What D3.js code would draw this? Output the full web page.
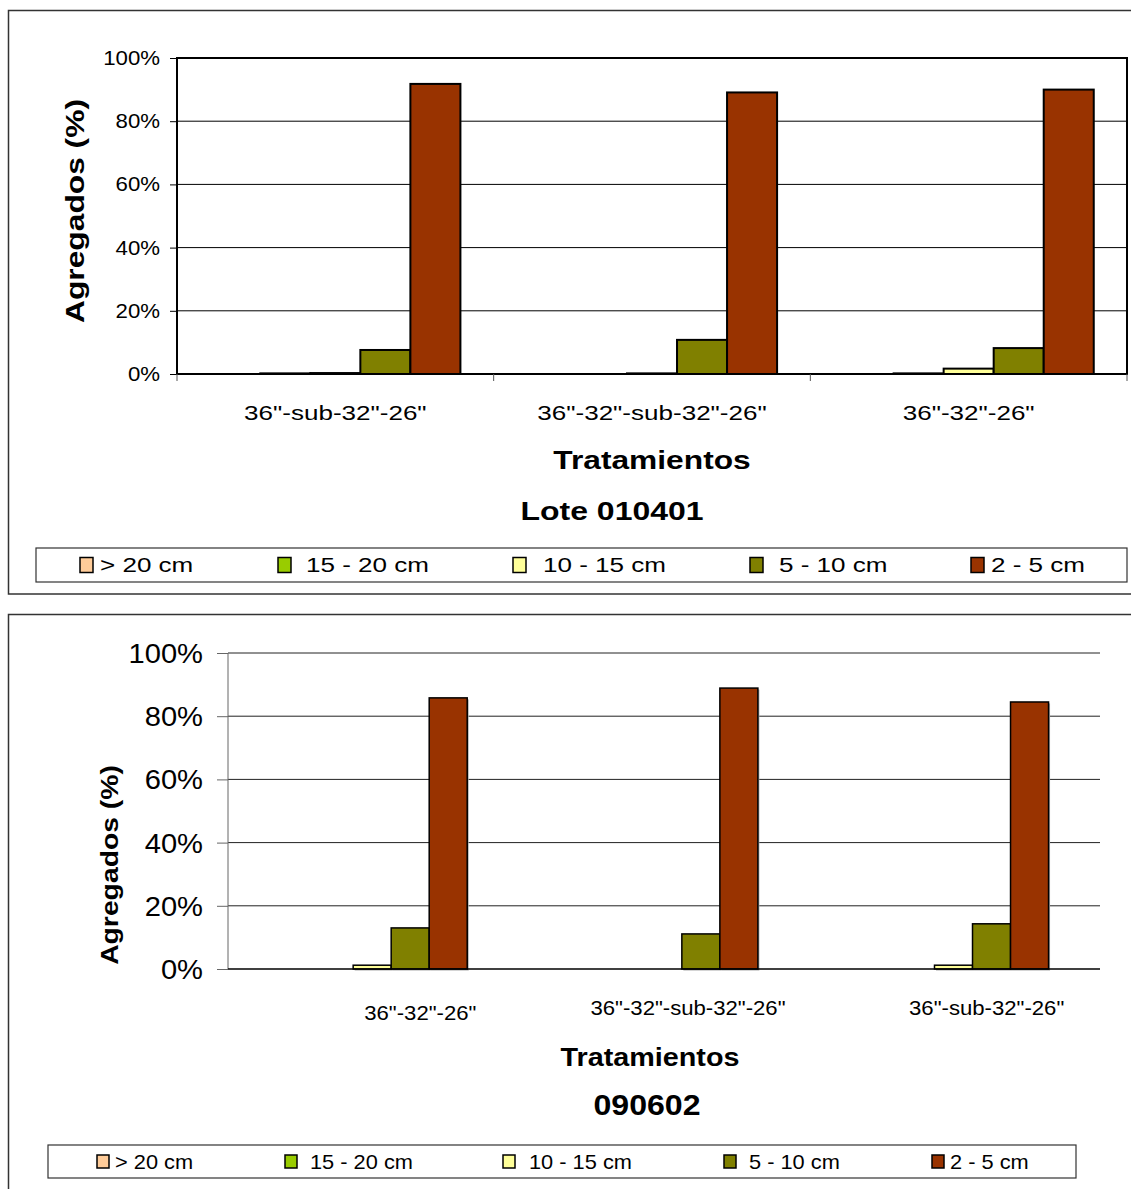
<!DOCTYPE html>
<html><head><meta charset="utf-8">
<script src="https://cdn.jsdelivr.net/npm/d3@7"></script>
<style>body{margin:0;background:#fff}svg{display:block;font-family:"Liberation Sans",Arial,sans-serif}</style>
</head><body>
<svg id="c" width="1131" height="1189"></svg>
<script>
// ---- data ----
const seriesNames = ["> 20 cm", "15 - 20 cm", "10 - 15 cm", "5 - 10 cm", "2 - 5 cm"];
const seriesColors = ["#FFCC99", "#99CC00", "#FFFF99", "#808000", "#993300"];
const yTicks = [0, 20, 40, 60, 80, 100];

const topCategories = ['36"-sub-32"-26"', '36"-32"-sub-32"-26"', '36"-32"-26"'];
const topGt20   = [0, 0, 0];
const top15_20  = [0.2, 0, 0.2];
const top10_15  = [0.3, 0.2, 1.7];
const top5_10   = [7.6, 10.8, 8.2];
const top2_5    = [91.8, 89.1, 90.0];
const topTitle = "Lote 010401";

const botCategories = ['36"-32"-26"', '36"-32"-sub-32"-26"', '36"-sub-32"-26"'];
const botGt20   = [0, 0, 0];
const bot15_20  = [0, 0, 0];
const bot10_15  = [1.2, 0, 1.2];
const bot5_10   = [13.0, 11.1, 14.3];
const bot2_5    = [85.8, 88.9, 84.5];
const botTitle = "090602";

const xTitle = "Tratamientos";
const yTitle = "Agregados (%)";

const svg = d3.select("#c");

// text with horizontal stretch (reference glyphs are wider than tall)
function txt(parent, x, y, str, st, anchor, rotate) {
  const t = parent.append("text")
    .attr("transform", rotate ? `translate(${x},${y}) rotate(-90) scale(${st[1]},1)` : `translate(${x},${y}) scale(${st[1]},1)`)
    .attr("text-anchor", anchor || "start")
    .attr("font-size", st[0]).attr("fill", "#000")
    .text(str);
  if (st[2]) t.attr("font-weight", "bold");
  return t;
}

function drawChart(cfg) {
  const g = svg.append("g");
  g.append("rect").attr("x", cfg.frame[0]).attr("y", cfg.frame[1]).attr("width", cfg.frame[2]).attr("height", cfg.frame[3])
    .attr("fill", "none").attr("stroke", "#333").attr("stroke-width", 1.5);

  const x0 = d3.scaleBand().domain(cfg.categories).range([cfg.left, cfg.right]);
  const bw = x0.bandwidth();
  const x1 = d3.scaleBand().domain(seriesNames).range([bw * cfg.barStart, bw * cfg.barStart + bw * cfg.barSpan]);
  const y = d3.scaleLinear().domain([0, 100]).range([cfg.bottom, cfg.top]);

  // gridlines
  g.append("g").selectAll("line").data(yTicks.filter(t => t > 0 && (cfg.gridTop || t < 100))).join("line")
    .attr("x1", cfg.left).attr("x2", cfg.right).attr("y1", d => y(d)).attr("y2", d => y(d))
    .attr("stroke", cfg.gridColor).attr("stroke-width", 1);

  // y axis ticks
  const yAxis = d3.axisLeft(y).tickValues(yTicks).tickFormat("").tickSize(cfg.tickLen);
  const ya = g.append("g").attr("transform", `translate(${cfg.left},0)`).call(yAxis);
  ya.select(".domain").remove();
  ya.selectAll(".tick line").attr("stroke", cfg.axisColor);
  const yl = g.append("g");
  yTicks.forEach(t => txt(yl, cfg.left - cfg.tickLen - cfg.tickPad, y(t) + cfg.yTickStyle[0] * 0.36, t + "%", cfg.yTickStyle, "end"));
  g.append("line").attr("x1", cfg.left).attr("x2", cfg.left).attr("y1", cfg.top).attr("y2", cfg.bottom)
    .attr("stroke", cfg.axisColor).attr("stroke-width", cfg.leftAxisWidth);

  // bars
  const bars = [];
  cfg.categories.forEach((c, ci) => {
    seriesNames.forEach((s, si) => bars.push({c, s, si, v: cfg.values[si][ci]}));
  });
  const nz = bars.filter(d => d.v > 0);
  const bg = g.append("g");
  if (cfg.shadow) {
    bg.selectAll("rect.sh").data(nz).join("rect").attr("class", "sh")
      .attr("x", d => x0(d.c) + x1(d.s) + 1.5).attr("y", d => y(d.v) + 1.5)
      .attr("width", x1.bandwidth()).attr("height", d => y(0) - y(d.v))
      .attr("fill", "#aaa");
  }
  bg.selectAll("rect.b").data(nz).join("rect").attr("class", "b")
    .attr("x", d => x0(d.c) + x1(d.s)).attr("y", d => y(d.v))
    .attr("width", x1.bandwidth()).attr("height", d => y(0) - y(d.v))
    .attr("fill", d => seriesColors[d.si]).attr("stroke", "#000").attr("stroke-width", cfg.barStroke);

  if (cfg.plotBorder) {
    g.append("rect").attr("x", cfg.left).attr("y", cfg.top).attr("width", cfg.right - cfg.left).attr("height", cfg.bottom - cfg.top)
      .attr("fill", "none").attr("stroke", "#000").attr("stroke-width", 2);
  } else {
    g.append("line").attr("x1", cfg.left).attr("x2", cfg.right).attr("y1", cfg.bottom).attr("y2", cfg.bottom)
      .attr("stroke", "#000").attr("stroke-width", 1.5);
  }
  if (cfg.xTicks) {
    const edges = cfg.categories.map(c => x0(c)).concat([cfg.right]);
    g.append("g").selectAll("line").data(edges).join("line")
      .attr("x1", d => d).attr("x2", d => d).attr("y1", cfg.bottom).attr("y2", cfg.bottom + 7)
      .attr("stroke", "#555").attr("stroke-width", 1);
  }
  // category labels
  const cl = g.append("g");
  cfg.categories.forEach((c, i) => txt(cl, x0(c) + bw / 2 + cfg.catDx[i], cfg.catY + cfg.catDy[i], c, cfg.catStyle, "middle"));

  // titles
  txt(g, cfg.xTitlePos[0], cfg.xTitlePos[1], xTitle, cfg.xTitleStyle, "middle");
  txt(g, cfg.titlePos[0], cfg.titlePos[1], cfg.title, cfg.titleStyle, "middle");
  txt(g, cfg.yTitlePos[0], cfg.yTitlePos[1], yTitle, cfg.yTitleStyle, "middle", true);

  // legend
  const L = cfg.legend;
  g.append("rect").attr("x", L.box[0]).attr("y", L.box[1]).attr("width", L.box[2]).attr("height", L.box[3])
    .attr("fill", "none").attr("stroke", "#333").attr("stroke-width", 1.2);
  const cy = L.box[1] + L.box[3] / 2;
  seriesNames.forEach((s, i) => {
    g.append("rect").attr("x", L.xs[i]).attr("y", cy - L.sq[1] / 2).attr("width", L.sq[0]).attr("height", L.sq[1])
      .attr("fill", seriesColors[i]).attr("stroke", "#000").attr("stroke-width", 1.5);
    txt(g, L.xs[i] + L.textDx[i], cy + L.style[0] * 0.36, s, L.style, "start");
  });
}

drawChart({
  categories: topCategories, title: topTitle,
  values: [topGt20, top15_20, top10_15, top5_10, top2_5],
  frame: [8.5, 10.5, 1140, 583.5],
  left: 177, right: 1127, top: 58, bottom: 374,
  barStart: 0.105, barSpan: 0.79, barStroke: 2,
  gridColor: "#000", gridTop: false, axisColor: "#000", leftAxisWidth: 2,
  tickLen: 7, tickPad: 10, yTickStyle: [19.5, 1.14],
  plotBorder: true, xTicks: true, shadow: false,
  catY: 419.5, catDx: [0, 0, 0], catDy: [0, 0, 0], catStyle: [21, 1.24],
  xTitlePos: [652, 469], xTitleStyle: [26, 1.22, true],
  titlePos: [612, 519.5], titleStyle: [26, 1.23, true],
  yTitlePos: [84, 211], yTitleStyle: [25, 1.27, true],
  legend: { box: [36, 548, 1091, 34], sq: [13, 15], style: [20.5, 1.27],
            xs: [80, 278, 513, 750, 971], textDx: [20, 28, 30, 29, 20] }
});

drawChart({
  categories: botCategories, title: botTitle,
  values: [botGt20, bot15_20, bot10_15, bot5_10, bot2_5],
  frame: [8.5, 614.5, 1140, 600],
  left: 228, right: 1100, top: 653, bottom: 969,
  barStart: 0.169, barSpan: 0.654, barStroke: 1.5,
  gridColor: "#222", gridTop: true, axisColor: "#666", leftAxisWidth: 1,
  tickLen: 11, tickPad: 14, yTickStyle: [28, 1.04],
  plotBorder: false, xTicks: false, shadow: true,
  catY: 1014.5, catDx: [47, 24, 32], catDy: [5, 0, 0], catStyle: [20.5, 1.08],
  xTitlePos: [650, 1066], xTitleStyle: [25, 1.15, true],
  titlePos: [647, 1115], titleStyle: [30, 1.07, true],
  yTitlePos: [118, 865], yTitleStyle: [24, 1.18, true],
  legend: { box: [48, 1145, 1028, 33], sq: [12, 13], style: [20, 1.09],
            xs: [97, 285, 503, 724, 932], textDx: [18, 25, 26, 25, 18] }
});
</script>
</body></html>
